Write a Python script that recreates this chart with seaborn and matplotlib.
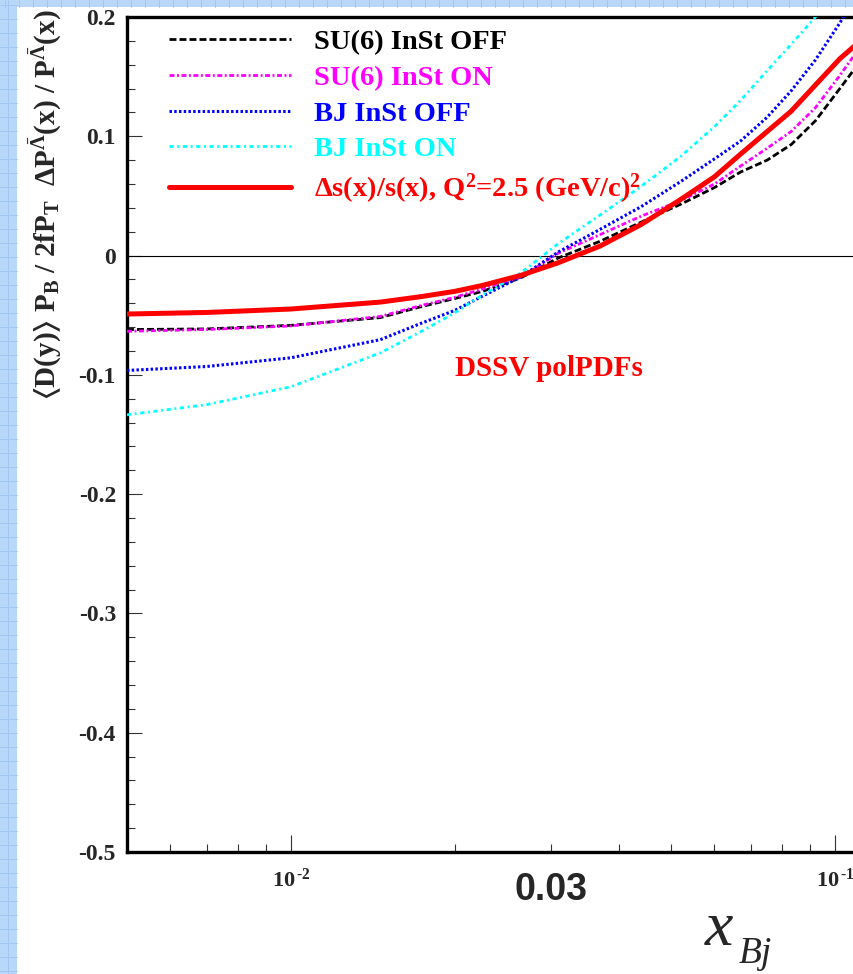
import matplotlib
matplotlib.use("Agg")
import matplotlib.pyplot as plt
import pandas as pd
import seaborn as sns
from matplotlib.patches import Rectangle
from matplotlib.lines import Line2D
from matplotlib.ticker import FixedLocator, FixedFormatter, LogLocator, MultipleLocator, NullFormatter

# x_Bj sampling points
x_bj = [0.005, 0.007, 0.010, 0.0146, 0.0173, 0.020, 0.0225, 0.0265, 0.031, 0.037,
        0.044, 0.052, 0.060, 0.067, 0.075, 0.083, 0.092, 0.102, 0.110]

# spin transfer curves
su6_off = [-0.062, -0.0615, -0.0585, -0.052, -0.043, -0.036, -0.030, -0.0185, -0.002, 0.012,
           0.028, 0.043, 0.057, 0.070, 0.080, 0.093, 0.113, 0.140, 0.160]
su6_on = [-0.0635, -0.062, -0.059, -0.051, -0.042, -0.035, -0.028, -0.018, 0.002, 0.0176,
          0.033, 0.046, 0.060, 0.075, 0.090, 0.104, 0.124, 0.151, 0.172]
bj_off = [-0.0963, -0.093, -0.0857, -0.0705, -0.057, -0.046, -0.034, -0.0176, 0.003, 0.022,
          0.041, 0.062, 0.081, 0.096, 0.116, 0.138, 0.164, 0.195, 0.220]
bj_on = [-0.1335, -0.125, -0.110, -0.0816, -0.064, -0.048, -0.033, -0.0143, 0.010, 0.034,
         0.058, 0.083, 0.108, 0.130, 0.155, 0.177, 0.200, 0.225, 0.240]
ds_over_s = [-0.049, -0.0477, -0.0448, -0.039, -0.0345, -0.030, -0.025, -0.0165, -0.006, 0.008,
             0.026, 0.047, 0.066, 0.085, 0.104, 0.121, 0.143, 0.165, 0.178]

series_labels = ["SU(6) InSt OFF", "SU(6) InSt ON", "BJ InSt OFF", "BJ InSt ON",
                 r"$\Delta$s(x)/s(x), Q$^{\rm 2}$=2.5 (GeV/c)$^{\rm 2}$"]
y_ticks = [-0.5, -0.4, -0.3, -0.2, -0.1, 0.0, 0.1, 0.2]
y_tick_labels = ["-0.5", "-0.4", "-0.3", "-0.2", "-0.1", "0", "0.1", "0.2"]
x_ticks = [0.01, 0.1]
x_tick_labels = ["$10^{\\,\u20102}$", "$10^{\\,\u20101}$"]

sns.set_style("ticks")
plt.rcParams.update({
    "font.family": ["Liberation Serif", "DejaVu Serif"],
    "font.weight": "bold",
    "axes.labelweight": "bold",
    "mathtext.fontset": "custom",
    "mathtext.rm": "Liberation Serif:bold",
    "mathtext.it": "Liberation Serif:italic:bold",
    "mathtext.bf": "Liberation Serif:bold",
    "mathtext.fallback": "stix",
})

W, H = 854, 974
fig = plt.figure(figsize=(W / 100, H / 100), dpi=100)
fig.patch.set_facecolor("#b9d7f8")

# white sheet over the blue squared paper
fig.add_artist(Rectangle((17 / W, 0), 1, (H - 7) / H, transform=fig.transFigure,
                         facecolor="white", edgecolor="none", zorder=-5))
grid_c = "#a2c6f0"
for yp in range(3, H, 14):
    fig.add_artist(Line2D([0, 17 / W], [yp / H, yp / H], color=grid_c, lw=0.7, zorder=-4))
fig.add_artist(Line2D([8 / W, 8 / W], [0, 1], color=grid_c, lw=0.7, zorder=-4))
for xp in range(5, W, 14):
    fig.add_artist(Line2D([xp / W, xp / W], [(H - 7) / H, 1], color=grid_c, lw=0.7, zorder=-4))

ax = fig.add_axes([127 / W, (H - 852) / H, (999 - 127) / W, (852 - 17) / H])
ax.set_facecolor("white")
ax.set_xscale("log")

df = pd.DataFrame({"x": x_bj, "su6_off": su6_off, "su6_on": su6_on,
                   "bj_off": bj_off, "bj_on": bj_on, "ds": ds_over_s})

styles = [
    ("su6_off", "#000000", (0, (2.5, 1.1)), 2.0),
    ("su6_on", "#ff00ff", (0, (1.8, 0.9, 0.7, 0.9)), 2.0),
    ("bj_off", "#0000ff", (0, (0.8, 0.75)), 2.2),
    ("bj_on", "#00ffff", (0, (1.5, 1.3, 0.7, 1.3)), 2.0),
    ("ds", "#ff0000", "-", 3.6),
]
for (col, color, ls, lw), lab in zip(styles, series_labels):
    sns.lineplot(data=df, x="x", y=col, ax=ax, color=color, linestyle=ls,
                 linewidth=lw, label=lab, estimator=None, sort=False, zorder=3)

ax.axhline(0, color="black", lw=0.8, zorder=2)

ax.set_xlim(0.005, 0.2)
ax.set_ylim(-0.5, 0.2)

ax.yaxis.set_major_locator(FixedLocator(y_ticks))
ax.yaxis.set_major_formatter(FixedFormatter(y_tick_labels))
ax.yaxis.set_minor_locator(MultipleLocator(0.02))
ax.xaxis.set_major_locator(FixedLocator(x_ticks))
ax.xaxis.set_major_formatter(FixedFormatter(x_tick_labels))
ax.xaxis.set_minor_locator(LogLocator(base=10, subs=range(2, 10)))
ax.xaxis.set_minor_formatter(NullFormatter())

ax.tick_params(axis="both", which="both", direction="in", top=False, right=False,
               width=0.8, color="#333333")
ax.tick_params(axis="y", which="major", length=11, pad=8, labelsize=17)
ax.tick_params(axis="y", which="minor", length=5.5)
ax.tick_params(axis="x", which="major", length=12, pad=12, labelsize=16)
ax.tick_params(axis="x", which="minor", length=6)

for side in ("left", "bottom", "top"):
    ax.spines[side].set_linewidth(2.4)
    ax.spines[side].set_color("black")
ax.spines["right"].set_visible(False)

# 0.03 marker label
ax.text(0.03, -0.0455, "0.03", transform=ax.get_xaxis_transform(), ha="center",
        va="center", fontsize=27, fontweight="bold", family="Liberation Sans")

# x_Bj axis title: italic x with a lowered Bj
ax.set_xlabel("")
fig.text(705 / W, 1 - 945 / H, "x", fontsize=46, fontstyle="italic", fontweight="normal",
         family="Liberation Serif", ha="left", va="baseline")
fig.text(739 / W, 1 - 963 / H, "Bj", fontsize=27, fontstyle="italic", fontweight="normal",
         family="Liberation Serif", ha="left", va="baseline")

ax.set_ylabel(r"$\langle$D(y)$\rangle$ P$_{\rm B}$ / 2fP$_{\rm T}$  $\Delta$P$^{\bar{\Lambda}}$(x) / P$^{\bar{\Lambda}}$(x)",
              fontsize=21, fontweight="bold")
ax.yaxis.label.set_va("center")
ax.yaxis.set_label_coords(-0.094, 0.775)

ax.text(0.376, 0.5796, "DSSV polPDFs", transform=ax.transAxes, color="#ff0000",
        fontsize=21, fontweight="bold", ha="left", va="center")

handles, labels = ax.get_legend_handles_labels()
ax.legend(handles, labels, loc="upper left", bbox_to_anchor=(0.048, 0.985),
          frameon=False, handlelength=4.3, handletextpad=0.8, labelspacing=0.34,
          borderaxespad=0, borderpad=0, labelcolor="linecolor",
          prop={"family": "Liberation Serif", "weight": "bold", "size": 20.5})

fig.savefig("out.png", dpi=100, facecolor=fig.get_facecolor())
